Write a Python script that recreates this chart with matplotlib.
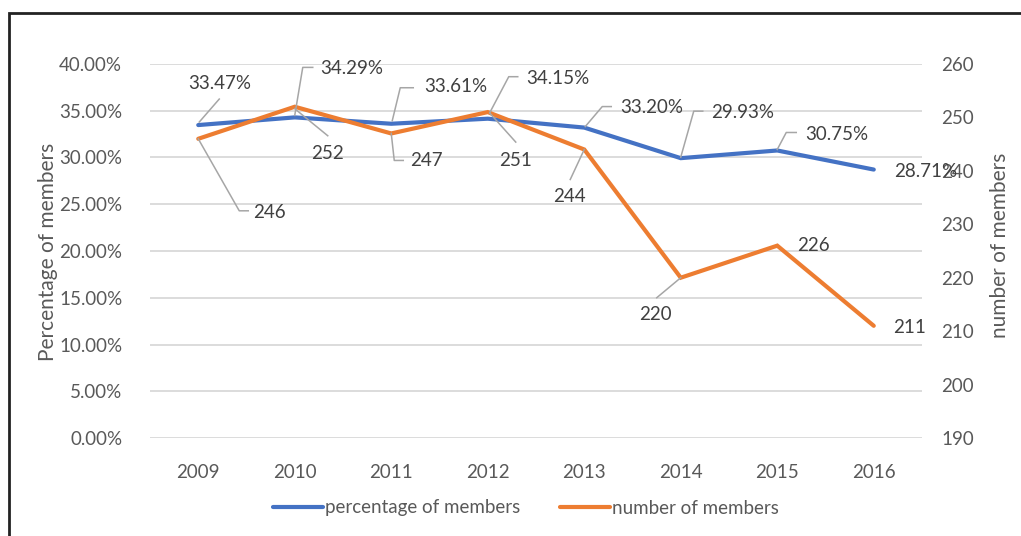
import matplotlib
matplotlib.use("Agg")
import matplotlib.pyplot as plt
from matplotlib.lines import Line2D
from matplotlib.ticker import FuncFormatter

years = ["2009", "2010", "2011", "2012", "2013", "2014", "2015", "2016"]
pct_members = [33.47, 34.29, 33.61, 34.15, 33.20, 29.93, 30.75, 28.71]
num_members = [246, 252, 247, 251, 244, 220, 226, 211]
pct_labels = ["33.47%", "34.29%", "33.61%", "34.15%", "33.20%", "29.93%", "30.75%", "28.71%"]
num_labels = ["246", "252", "247", "251", "244", "220", "226", "211"]

plt.rcParams['font.family'] = ['Lato', 'DejaVu Sans']
W, H = 1021, 536
fig = plt.figure(figsize=(W / 100, H / 100), dpi=100)
L, R, T, B = 150, 922, 64, 438
ax = fig.add_axes([L / W, 1 - B / H, (R - L) / W, (B - T) / H])
ax2 = ax.twinx()

blue = "#4472C4"
orange = "#ED7D31"
grid_c = "#D9D9D9"
tick_c = "#595959"
lab_c = "#404040"
lead_c = "#A6A6A6"
FS = 13.5

x = list(range(len(years)))
ax.plot(x, [p / 100 for p in pct_members], color=blue, lw=3.0, solid_capstyle='round',
        solid_joinstyle='miter', zorder=3, label="percentage of members")
ax2.plot(x, num_members, color=orange, lw=3.0, solid_capstyle='round',
         solid_joinstyle='miter', zorder=3, label="number of members")

ax.set_xlim(-0.5, len(years) - 0.5)
ax.set_ylim(0, 0.40)
ax2.set_ylim(190, 260)
ax.set_yticks([i * 0.05 for i in range(9)])
ax2.set_yticks(list(range(190, 261, 10)))
ax.yaxis.set_major_formatter(FuncFormatter(lambda v, p: f"{v*100:.2f}%"))
ax.set_xticks(x)
ax.set_xticklabels(years)
ax.grid(axis='y', color=grid_c, lw=1.3)
ax.set_axisbelow(True)
for a in (ax, ax2):
    for s in a.spines.values():
        s.set_visible(False)
    a.tick_params(length=0, labelsize=FS, colors=tick_c)
ax.tick_params(axis='y', pad=20)
ax.tick_params(axis='x', pad=19)
ax2.tick_params(axis='y', pad=14)

fig.text(48 / W, 1 - 252 / H, "Percentage of members", rotation=90, ha='center', va='center',
         fontsize=15, color=tick_c)
fig.text(1000 / W, 1 - 245 / H, "number of members", rotation=90, ha='center', va='center',
         fontsize=15, color=tick_c)

# label placements: (text offset dx, dy, ha, leader path offsets) in pixels, y down
pct_place = [
    ((21, -42), 'center', [(1, -3), (21, -26)]),
    ((25, -49), 'left', [(0, -2), (8, -50), (18, -50)]),
    ((33, -37), 'left', [(1, -3), (9, -36), (22, -36)]),
    ((38, -40), 'left', [(2, -6), (21, -42), (30, -42)]),
    ((36, -20), 'left', [(1, -1), (18, -21), (27, -21)]),
    ((30, -46), 'left', [(0, -1), (13, -47), (22, -47)]),
    ((28, -16), 'left', [(0, -1), (9, -18), (19, -18)]),
    ((20, 2), 'left', []),
]
num_place = [
    ((55, 74), 'left', [(0, 0), (41, 72), (50, 72)]),
    ((33, 47), 'center', [(0, 2), (33, 29)]),
    ((19, 27), 'left', [(0, 0), (3, 27), (12, 27)]),
    ((28, 48), 'center', [(2, 1), (28, 30)]),
    ((-15, 47), 'center', [(0, 0), (-14, 30)]),
    ((-25, 37), 'center', [(0, 0), (-24, 20)]),
    ((20, 0), 'left', []),
    ((19, 2), 'left', []),
]


def annotate(axis, xs, ys, labels, places):
    for xi, yi, lab, (toff, ha, path) in zip(xs, ys, labels, places):
        px, py = axis.transData.transform((xi, yi))
        if path:
            fig.add_artist(Line2D([px + dx for dx, dy in path], [py - dy for dx, dy in path],
                                  transform=None, color=lead_c, lw=1.1, zorder=4))
        fig.text(px + toff[0], py - toff[1], lab, transform=None, ha=ha, va='center',
                 fontsize=FS, color=lab_c, zorder=5)


annotate(ax, x, [p / 100 for p in pct_members], pct_labels, pct_place)
annotate(ax2, x, num_members, num_labels, num_place)

h1, l1 = ax.get_legend_handles_labels()
h2, l2 = ax2.get_legend_handles_labels()
leg = fig.legend(h1 + h2, l1 + l2, loc='center', bbox_to_anchor=(0.515, 1 - 508 / H), ncol=2,
                 frameon=False, fontsize=FS, handlelength=2.7, handletextpad=0.1,
                 columnspacing=2.1)
for t in leg.get_texts():
    t.set_color(tick_c)

# outer border (partially visible)
fig.add_artist(Line2D([9, 9, W + 5], [-5, H - 13, H - 13], transform=None, color="#222222",
                      lw=2.0, solid_joinstyle='miter'))

fig.savefig("out.png", dpi=100)
